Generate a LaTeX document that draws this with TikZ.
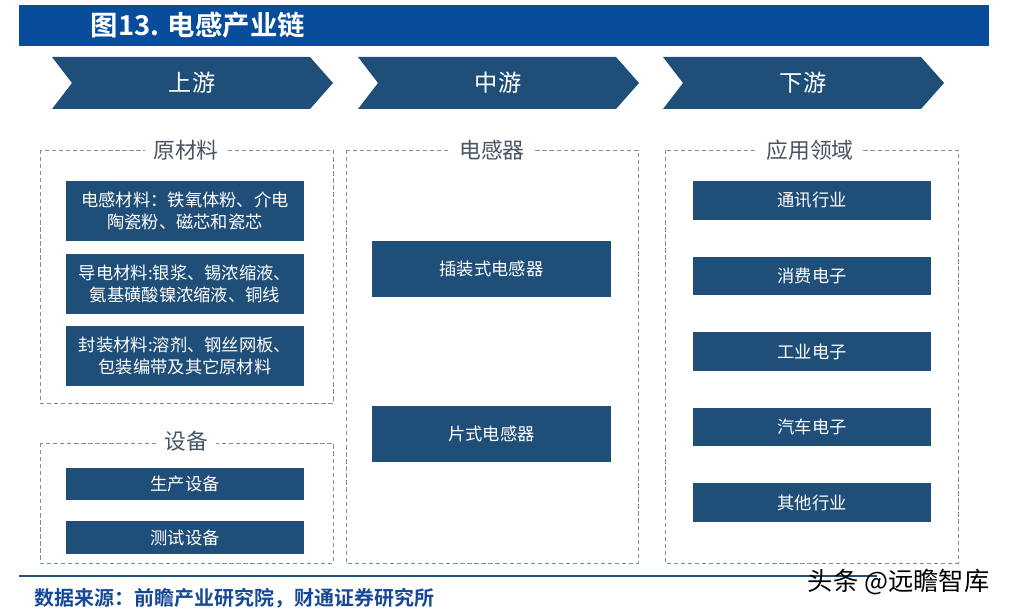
\documentclass[tikz,border=0pt]{standalone}
\usepackage{fontspec}
\setmainfont{Noto Sans CJK SC}[BoldFont={Noto Sans CJK SC Bold}]

\definecolor{titleblue}{RGB}{8,77,155}
\definecolor{boxblue}{RGB}{31,78,121}
\definecolor{dashgray}{RGB}{140,140,140}
\definecolor{labelgray}{RGB}{70,85,100}
\definecolor{srcblue}{RGB}{22,72,150}

\begin{document}
\begin{tikzpicture}[x=0.025cm, y=-0.025cm,
  chev/.style={fill=boxblue},
  chevtext/.style={text=white, font=\fontsize{16.5}{18}\selectfont},
  grp/.style={draw=dashgray, line width=0.7pt, dash pattern=on 3pt off 2pt},
  grptitle/.style={fill=white, text=labelgray, inner xsep=6pt, font=\fontsize{15.5}{18}\selectfont},
  box/.style={fill=boxblue, text=white, align=center, inner sep=0pt,
    minimum width=5.95cm, font=\fontsize{12.3}{15.5}\selectfont}]
\useasboundingbox (0,0) rectangle (1013,616);
% title bar
\fill[titleblue] (19,5) rectangle (989,46);
\node[anchor=west, text=white, font=\fontsize{19.5}{21}\selectfont\bfseries] (title) at (86,25) {图13. 电感产业链};
% chevrons
\foreach \x/\t/\n in {52/上游/up, 358/中游/mid, 663/下游/down}{
  \fill[chev] (\x,57) -- ++(258,0) -- ++(23,26) -- ++(-23,26) -- ++(-258,0) -- ++(20,-26) -- cycle;
  \node[chevtext] (\n) at (\x+140,83) {\t};
}
% upstream: raw materials
\draw[grp] (40,150) rectangle (333,403);
\node[grptitle] (raw) at (186,150) {原材料};
\node[box, minimum height=1.5cm] (raw1) at (185,211) {电感材料：铁氧体粉、介电\\陶瓷粉、磁芯和瓷芯};
\node[box, minimum height=1.5cm] (raw2) at (185,284) {导电材料:银浆、锡浓缩液、\\氨基磺酸镍浓缩液、铜线};
\node[box, minimum height=1.5cm] (raw3) at (185,356) {封装材料:溶剂、钢丝网板、\\包装编带及其它原材料};
% upstream: equipment
\draw[grp] (40,443) rectangle (333,563);
\node[grptitle] (equip) at (186,441) {设备};
\node[box, minimum height=0.8cm] (equip1) at (185,484) {生产设备};
\node[box, minimum height=0.8cm] (equip2) at (185,537.5) {测试设备};
% midstream
\draw[grp] (346,150) rectangle (638,563);
\node[grptitle] (ind) at (492,150) {电感器};
\node[box, minimum width=5.975cm, minimum height=1.4cm] (ind1) at (491.5,269) {插装式电感器};
\node[box, minimum width=5.975cm, minimum height=1.4cm] (ind2) at (491.5,434) {片式电感器};
% downstream
\draw[grp] (665,150) rectangle (958,563);
\node[grptitle] (app) at (810,150) {应用领域};
\foreach \t [count=\i] in {通讯行业,消费电子,工业电子,汽车电子,其他行业}
  \node[box, minimum height=0.96cm] (app\i) at (812,{200.5+75.5*(\i-1)}) {\t};
% source line
\draw[boxblue, line width=0.8pt] (19,576) -- (877,576);
\node[anchor=west, text=srcblue, font=\fontsize{14.2}{16}\selectfont\bfseries] (src) at (30,598) {数据来源：前瞻产业研究院，财通证券研究所};
\node[anchor=west, font=\fontsize{18}{20}\selectfont] (mark) at (803,582) {头条 @远瞻智库};
\end{tikzpicture}
\end{document}
